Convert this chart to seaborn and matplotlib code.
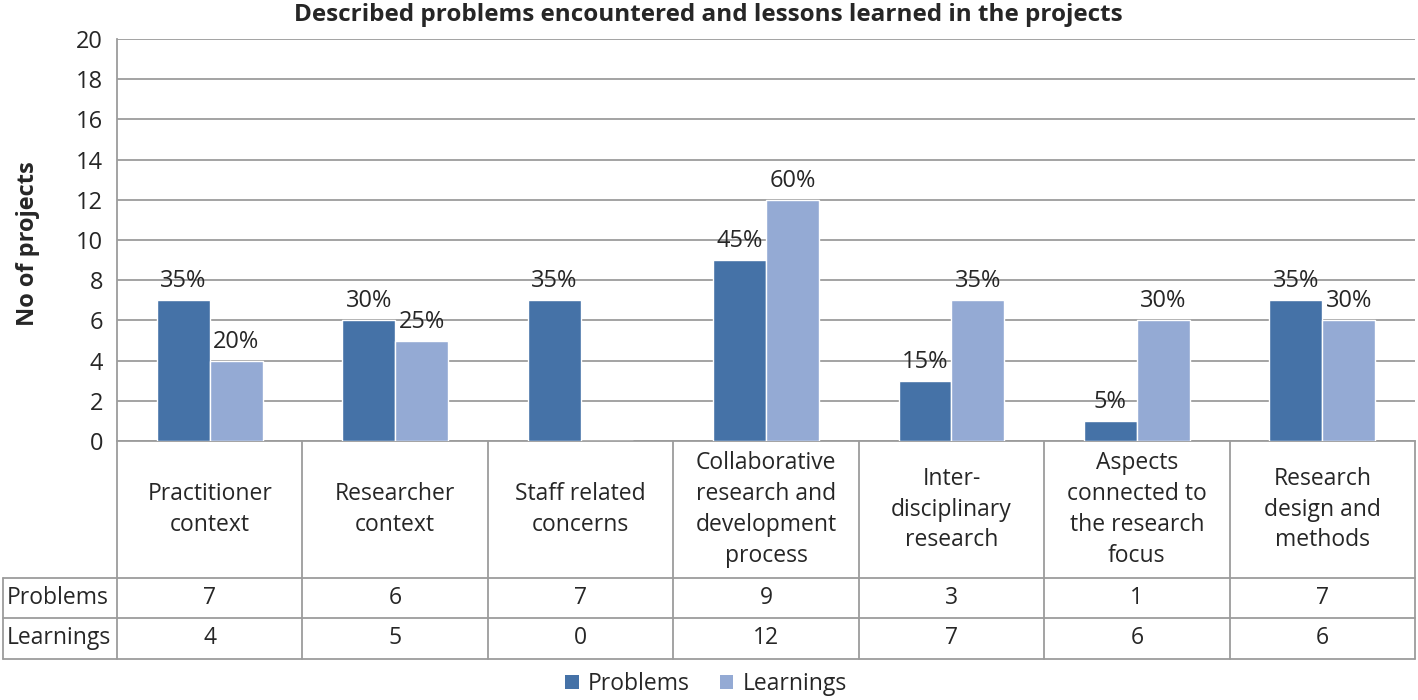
import matplotlib
matplotlib.use("Agg")
import matplotlib.pyplot as plt
import matplotlib.transforms as mtransforms
from matplotlib.patches import Patch
import pandas as pd
import seaborn as sns

categories = ["Practitioner\ncontext", "Researcher\ncontext", "Staff related\nconcerns",
              "Collaborative\nresearch and\ndevelopment\nprocess", "Inter-\ndisciplinary\nresearch",
              "Aspects\nconnected to\nthe research\nfocus", "Research\ndesign and\nmethods"]
problems = [7, 6, 7, 9, 3, 1, 7]
learnings = [4, 5, 0, 12, 7, 6, 6]
series = ["Problems", "Learnings"]
n_total = 20  # projects, for the percentage labels

colors = {"Problems": "#4572A7", "Learnings": "#94AAD4"}
grid_c = "#9C9C9C"

df = pd.DataFrame({"category": categories * 2,
                   "series": ["Problems"] * len(categories) + ["Learnings"] * len(categories),
                   "value": problems + learnings})

sns.set_theme(style="white")
plt.rcParams["font.family"] = ["Open Sans", "DejaVu Sans"]

W, H = 1418, 700
fig = plt.figure(figsize=(W / 100, H / 100), dpi=100)
# plot area in pixels: x 117..1415, y 39..441
ax = fig.add_axes([117 / W, 1 - 441 / H, (1415 - 117) / W, (441 - 39) / H])

sns.barplot(data=df, x="category", y="value", hue="series", palette=colors,
            width=0.57, gap=0, saturation=1, ax=ax, legend=False, zorder=3)

ax.set_ylim(0, 20)
ax.set_xlim(-0.5, len(categories) - 0.5)
ax.set_yticks(range(0, 21, 2))
ax.yaxis.grid(True, color=grid_c, linewidth=1.3, zorder=0)
ax.tick_params(axis="y", labelsize=17, length=0, pad=10)
ax.set_xticks([])
ax.set_xlabel("")
ax.set_ylabel("No of projects", fontsize=17, fontweight="bold")
ax.yaxis.set_label_coords((40 - 117) / (1415 - 117), 0.49)
for s in ["top", "right"]:
    ax.spines[s].set_visible(False)
ax.spines["left"].set_color(grid_c)
ax.spines["bottom"].set_color(grid_c)
ax.spines["left"].set_linewidth(1.3)
ax.spines["bottom"].set_linewidth(1.3)

# percentage labels
for cont in ax.containers:
    labels = [f"{int(round(b.get_height() / n_total * 100))}%" if b.get_height() > 0 else ""
              for b in cont]
    ax.bar_label(cont, labels=labels, padding=5, fontsize=17)

fig.text(708 / W, 1 - 15 / H,
         "Described problems encountered and lessons learned in the projects",
         ha="center", va="center", fontsize=17.5, fontweight="bold")

# data table below the axis
tr = mtransforms.blended_transform_factory(ax.transData, ax.transAxes)
ph = 441 - 39
y_cat = -(578 - 441) / ph
y_prob = -(618 - 441) / ph
y_learn = -(659 - 441) / ph
x_left = -0.5 - (117 - 3) / ((1415 - 117) / len(categories))
x_right = len(categories) - 0.5
lk = dict(color=grid_c, linewidth=1.3, transform=tr, clip_on=False)

for y in [y_cat, y_prob, y_learn]:
    ax.plot([x_left, x_right], [y, y], **lk)
for i in range(len(categories) + 1):
    ax.plot([i - 0.5, i - 0.5], [0, y_learn], **lk)
ax.plot([x_left, x_left], [y_cat, y_learn], **lk)

for i, cat in enumerate(categories):
    ax.text(i, y_cat / 2, cat, transform=tr, ha="center", va="center",
            fontsize=16.5, linespacing=1.38, clip_on=False)
    ax.text(i, (y_cat + y_prob) / 2, str(problems[i]), transform=tr,
            ha="center", va="center", fontsize=16.5, clip_on=False)
    ax.text(i, (y_prob + y_learn) / 2, str(learnings[i]), transform=tr,
            ha="center", va="center", fontsize=16.5, clip_on=False)

ax.text(x_left + 0.02, (y_cat + y_prob) / 2, series[0], transform=tr,
        ha="left", va="center", fontsize=16.5, clip_on=False)
ax.text(x_left + 0.02, (y_prob + y_learn) / 2, series[1], transform=tr,
        ha="left", va="center", fontsize=16.5, clip_on=False)

handles = [Patch(facecolor=colors[s], edgecolor="none", label=s) for s in series]
fig.legend(handles=handles, loc="center", bbox_to_anchor=(706 / W, 1 - 684 / H),
           ncol=2, frameon=False, fontsize=16.5, handlelength=0.6, handleheight=0.6,
           handletextpad=0.4, columnspacing=1.3)

fig.savefig("out.png", dpi=100)
